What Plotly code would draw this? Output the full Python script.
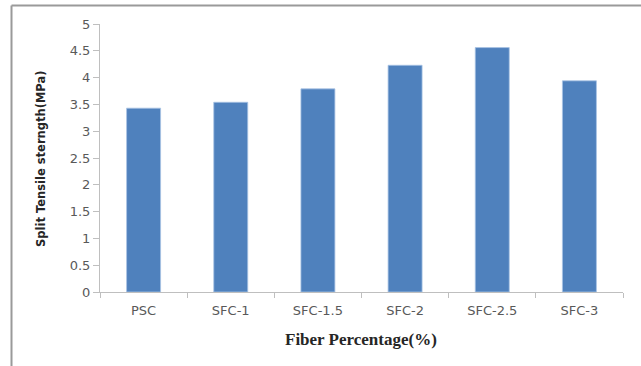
import plotly.graph_objects as go

# Split tensile strength for plain and steel-fibre concrete mixes
mixes = ["PSC", "SFC-1", "SFC-1.5", "SFC-2", "SFC-2.5", "SFC-3"]
strength_mpa = [3.43, 3.54, 3.79, 4.23, 4.56, 3.94]
y_ticks = [0, 0.5, 1, 1.5, 2, 2.5, 3, 3.5, 4, 4.5, 5]
y_tick_text = ["0", "0.5", "1", "1.5", "2", "2.5", "3", "3.5", "4", "4.5", "5"]

W, H = 641, 366
ml, mr, mt, mb = 100, 18, 24, 74
pw, ph = W - ml - mr, H - mt - mb

def px_to_paper_x(px):
    return (px - ml) / pw

def px_to_paper_y(py):
    return (H - mb - py) / ph

fig = go.Figure(
    go.Bar(
        x=mixes,
        y=strength_mpa,
        marker=dict(color="#4F81BD", line=dict(color="#A9C4E4", width=0.8)),
        width=0.39,
    )
)

axis_grey = "#BFBFBF"
tick_font = dict(family="DejaVu Sans, sans-serif", size=13, color="#595959")

fig.update_layout(
    width=W,
    height=H,
    margin=dict(l=ml, r=mr, t=mt, b=mb),
    paper_bgcolor="white",
    plot_bgcolor="white",
    showlegend=False,
    xaxis=dict(
        type="category",
        showline=True,
        linecolor=axis_grey,
        linewidth=1,
        ticks="outside",
        tickson="boundaries",
        ticklen=5,
        tickcolor=axis_grey,
        tickfont=tick_font,
        ticklabelstandoff=6,
        showgrid=False,
        zeroline=False,
    ),
    yaxis=dict(
        range=[0, 5],
        tickvals=y_ticks,
        ticktext=y_tick_text,
        showline=True,
        linecolor=axis_grey,
        linewidth=1,
        ticks="outside",
        ticklen=6,
        tickcolor=axis_grey,
        tickfont=tick_font,
        showgrid=False,
        zeroline=False,
    ),
    annotations=[
        dict(
            text="<b>Split Tensile sterngth(MPa)</b>",
            xref="paper", yref="paper",
            x=px_to_paper_x(41), y=px_to_paper_y(159),
            xanchor="center", yanchor="middle",
            textangle=-90, showarrow=False,
            font=dict(family="DejaVu Sans, sans-serif", size=11.5, color="#262626"),
        ),
        dict(
            text="<b>Fiber Percentage(%)</b>",
            xref="paper", yref="paper",
            x=px_to_paper_x(361), y=px_to_paper_y(339),
            xanchor="center", yanchor="middle",
            showarrow=False,
            font=dict(family="Liberation Serif, Times New Roman, serif", size=17, color="#262626"),
        ),
    ],
    shapes=[
        # outer frame edges (top and left)
        dict(type="line", xref="paper", yref="paper",
             x0=px_to_paper_x(11.5), x1=px_to_paper_x(W + 2),
             y0=px_to_paper_y(5.5), y1=px_to_paper_y(5.5),
             line=dict(color="#9A9A9A", width=2)),
        dict(type="line", xref="paper", yref="paper",
             x0=px_to_paper_x(11.5), x1=px_to_paper_x(11.5),
             y0=px_to_paper_y(5.5), y1=px_to_paper_y(H + 2),
             line=dict(color="#9A9A9A", width=2)),
    ],
)

fig.write_html("out.html")
